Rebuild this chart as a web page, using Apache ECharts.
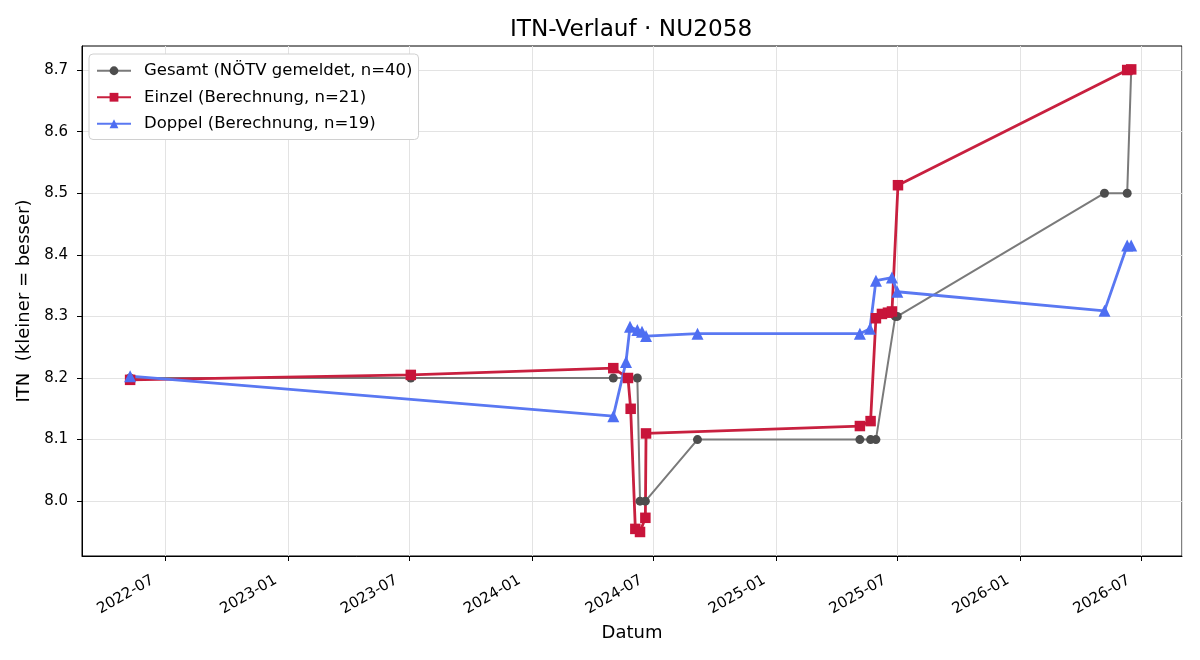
<!DOCTYPE html>
<html>
<head>
<meta charset="utf-8">
<script src="https://cdn.jsdelivr.net/npm/echarts@6/dist/echarts.min.js"></script>
<style>
  html, body { margin: 0; padding: 0; background: #fff; }
  #chart { width: 1200px; height: 660px; }
</style>
</head>
<body>
<div id="chart"></div>
<script>
// Gesamt (NÖTV gemeldet)
const gesamtDates = ['2022-05-10', '2023-07-04', '2024-05-02', '2024-05-24', '2024-06-07', '2024-06-11',
  '2024-06-19', '2024-09-05', '2025-05-06', '2025-05-22', '2025-05-30', '2025-06-28', '2025-07-01',
  '2026-05-07', '2026-06-10', '2026-06-16'];
const gesamtValues = [8.2, 8.2, 8.2, 8.2, 8.2, 8.0, 8.0, 8.1, 8.1, 8.1, 8.1, 8.3, 8.3, 8.5, 8.5, 8.7];

// Einzel (Berechnung)
const einzelDates = ['2022-05-10', '2023-07-04', '2024-05-02', '2024-05-24', '2024-05-28', '2024-06-04',
  '2024-06-11', '2024-06-19', '2024-06-20', '2025-05-06', '2025-05-22', '2025-05-30', '2025-06-08',
  '2025-06-17', '2025-06-23', '2025-07-02', '2026-06-10', '2026-06-16'];
const einzelValues = [8.197, 8.205, 8.216, 8.2, 8.15, 7.955, 7.95, 7.973, 8.11, 8.122, 8.13, 8.297,
  8.304, 8.306, 8.308, 8.513, 8.7, 8.701];

// Doppel (Berechnung)
const doppelDates = ['2022-05-10', '2024-05-02', '2024-05-21', '2024-05-27', '2024-06-07', '2024-06-14',
  '2024-06-20', '2024-09-05', '2025-05-06', '2025-05-21', '2025-05-30', '2025-06-23', '2025-07-01',
  '2026-05-07', '2026-06-10', '2026-06-16'];
const doppelValues = [8.203, 8.138, 8.226, 8.283, 8.278, 8.275, 8.268, 8.272, 8.272, 8.28, 8.358,
  8.363, 8.34, 8.309, 8.415, 8.415];

const yTicks = [8.0, 8.1, 8.2, 8.3, 8.4, 8.5, 8.6, 8.7];

const font = 'DejaVu Sans';
const DAY = 24 * 3600 * 1000;

function pairs(dates, values) {
  return dates.map((d, i) => [d, values[i]]);
}

const myChart = echarts.init(document.getElementById('chart'));
const option = {
  animation: false,
  textStyle: { fontFamily: font },
  title: {
    text: 'ITN-Verlauf · NU2058',
    left: 505,
    top: 13,
    textStyle: { fontFamily: font, fontSize: 23.2, fontWeight: 'normal', color: '#000' }
  },
  legend: {
    orient: 'vertical',
    left: 89,
    top: 54,
    padding: [7, 6, 6, 7],
    itemGap: 7,
    itemWidth: 34,
    itemHeight: 11,
    backgroundColor: '#fff',
    borderColor: '#d0d0d0',
    borderWidth: 1,
    borderRadius: 4,
    textStyle: { fontFamily: font, fontSize: 16.5, color: '#000', padding: [0, 0, 0, 8], lineHeight: 19.5 },
    data: ['Gesamt (NÖTV gemeldet, n=40)', 'Einzel (Berechnung, n=21)', 'Doppel (Berechnung, n=19)']
  },
  grid: {
    left: 82,
    right: 18,
    top: 46,
    bottom: 104,
    show: true,
    borderColor: '#000',
    borderWidth: 1
  },
  xAxis: {
    type: 'time',
    min: '2022-02-27',
    max: '2026-08-31',
    minInterval: 180 * DAY,
    maxInterval: 185 * DAY,
    name: 'Datum',
    nameLocation: 'middle',
    nameGap: 68,
    nameTextStyle: { fontFamily: font, fontSize: 18, color: '#000' },
    axisLine: { lineStyle: { color: '#000', width: 1 } },
    axisTick: { show: true, length: 5, lineStyle: { color: '#000' } },
    axisLabel: {
      rotate: 30,
      fontFamily: font,
      fontSize: 15,
      color: '#000',
      margin: 16,
      padding: [0, 14, 0, 0],
      formatter: function (v) {
        return echarts.time.format(v, '{yyyy}-{MM}', false);
      }
    },
    splitLine: { show: true, lineStyle: { color: '#e3e3e3', width: 1 } }
  },
  yAxis: {
    type: 'value',
    min: 7.911,
    max: 8.739,
    name: 'ITN  (kleiner = besser)',
    nameLocation: 'middle',
    nameGap: 47,
    nameTextStyle: { fontFamily: font, fontSize: 18, color: '#000' },
    axisLine: { show: true, lineStyle: { color: '#000', width: 1 } },
    axisTick: { show: true, length: 5, lineStyle: { color: '#000' }, customValues: yTicks },
    axisLabel: {
      fontFamily: font,
      fontSize: 15,
      color: '#000',
      margin: 14,
      customValues: yTicks,
      formatter: v => v.toFixed(1)
    },
    splitLine: { show: true, lineStyle: { color: '#e3e3e3', width: 1 } }
  },
  series: [
    {
      name: 'Gesamt (NÖTV gemeldet, n=40)',
      type: 'line',
      data: pairs(gesamtDates, gesamtValues),
      symbol: 'circle',
      symbolSize: 9,
      showAllSymbol: true,
      lineStyle: { color: '#7a7a7a', width: 2 },
      itemStyle: { color: '#4d4d4d', borderWidth: 0 }
    },
    {
      name: 'Einzel (Berechnung, n=21)',
      type: 'line',
      data: pairs(einzelDates, einzelValues),
      symbol: 'rect',
      symbolSize: 10.5,
      showAllSymbol: true,
      lineStyle: { color: '#c8203f', width: 2.8 },
      itemStyle: { color: '#c8143a', borderWidth: 0 }
    },
    {
      name: 'Doppel (Berechnung, n=19)',
      type: 'line',
      data: pairs(doppelDates, doppelValues),
      symbol: 'triangle',
      symbolSize: 12,
      showAllSymbol: true,
      lineStyle: { color: '#5a78f2', width: 2.8 },
      itemStyle: { color: '#4e6ef2', borderWidth: 0 }
    }
  ]
};
myChart.setOption(option);
</script>
</body>
</html>
